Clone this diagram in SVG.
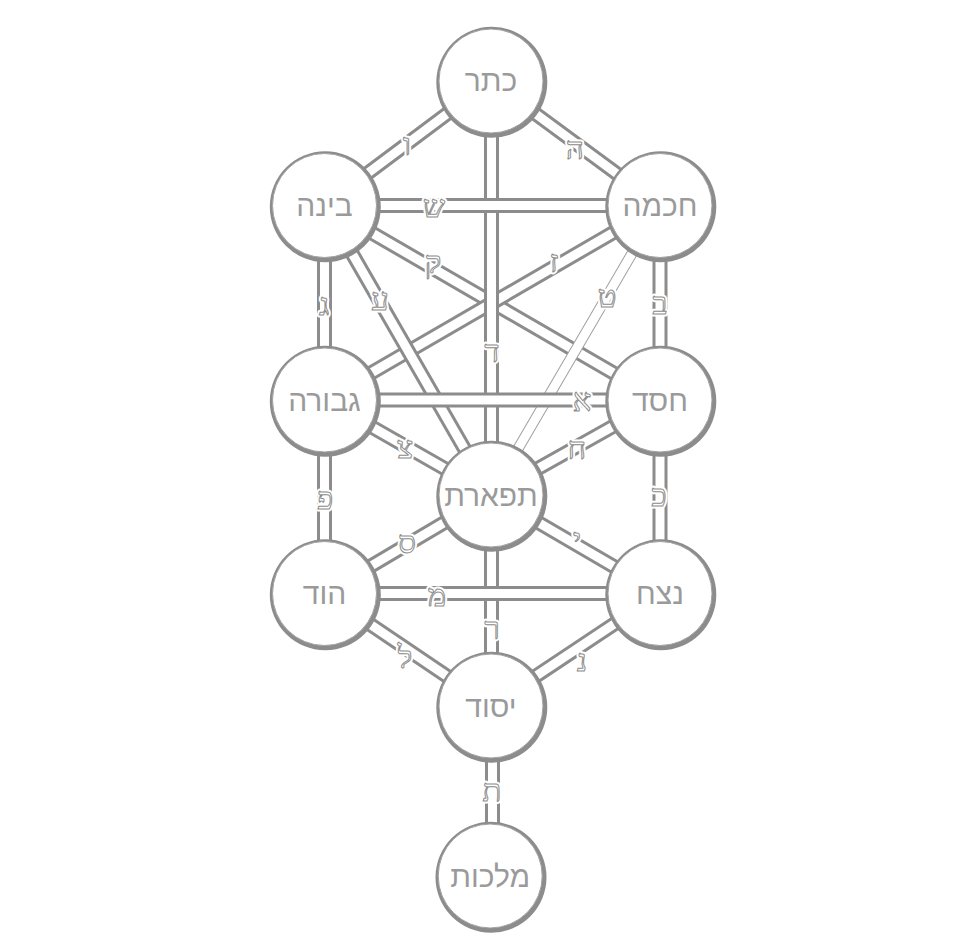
<svg xmlns="http://www.w3.org/2000/svg" width="977" height="951" viewBox="0 0 977 951">
<style>
.b{stroke:#8c8c8c;stroke-width:15;stroke-linecap:butt}
.w{stroke:#ffffff;stroke-width:9;stroke-linecap:butt}
.bt{stroke:#a0a0a0;stroke-width:11}
.wt{stroke:#ffffff;stroke-width:9}
.rim{fill:#8c8c8c}
.face{fill:#ffffff;stroke:#a0a0a0;stroke-width:1}
.lbl{font-family:"Liberation Sans","DejaVu Sans",sans-serif;font-size:30px;text-anchor:middle;fill:#9a9a9a}
.halo{font-family:"Liberation Serif","DejaVu Serif",serif;font-size:31px;text-anchor:middle;fill:#ffffff;stroke:#ffffff;stroke-width:5;stroke-linejoin:round}
.lt{font-family:"Liberation Serif","DejaVu Serif",serif;font-size:31px;text-anchor:middle;fill:#ffffff;stroke:#8c8c8c;stroke-width:1}
</style>
<rect width="977" height="951" fill="#ffffff"/>
<g id="connectors">
  <g id="p-keter-binah"><line class="b" x1="491" y1="81" x2="324.5" y2="205.5"/><line class="w" x1="491" y1="81" x2="324.5" y2="205.5"/></g>
  <g id="p-keter-chokmah"><line class="b" x1="491" y1="81" x2="660" y2="205.5"/><line class="w" x1="491" y1="81" x2="660" y2="205.5"/></g>
  <g id="p-binah-chesed"><line class="b" x1="324.5" y1="205.5" x2="660" y2="400"/><line class="w" x1="324.5" y1="205.5" x2="660" y2="400"/></g>
  <g id="p-chokmah-geburah"><line class="b" x1="660" y1="205.5" x2="324.5" y2="400"/><line class="w" x1="660" y1="205.5" x2="324.5" y2="400"/></g>
  <g id="p-binah-tiferet"><line class="b" x1="324.5" y1="205.5" x2="491" y2="495"/><line class="w" x1="324.5" y1="205.5" x2="491" y2="495"/></g>
  <g id="p-chokmah-tiferet"><line class="bt" x1="660" y1="205.5" x2="491" y2="495"/><line class="wt" x1="660" y1="205.5" x2="491" y2="495"/></g>
  <g id="p-geburah-tiferet"><line class="b" x1="324.5" y1="400" x2="491" y2="495"/><line class="w" x1="324.5" y1="400" x2="491" y2="495"/></g>
  <g id="p-chesed-tiferet"><line class="b" x1="660" y1="400" x2="491" y2="495"/><line class="w" x1="660" y1="400" x2="491" y2="495"/></g>
  <g id="p-tiferet-hod"><line class="b" x1="491" y1="495" x2="324.5" y2="593.5"/><line class="w" x1="491" y1="495" x2="324.5" y2="593.5"/></g>
  <g id="p-tiferet-netzach"><line class="b" x1="491" y1="495" x2="660" y2="593.5"/><line class="w" x1="491" y1="495" x2="660" y2="593.5"/></g>
  <g id="p-hod-yesod"><line class="b" x1="324.5" y1="593.5" x2="491" y2="706"/><line class="w" x1="324.5" y1="593.5" x2="491" y2="706"/></g>
  <g id="p-netzach-yesod"><line class="b" x1="660" y1="593.5" x2="491" y2="706"/><line class="w" x1="660" y1="593.5" x2="491" y2="706"/></g>
  <g id="p-keter-tiferet"><line class="b" x1="491.5" y1="81" x2="491.5" y2="495"/><line class="w" x1="491.5" y1="81" x2="491.5" y2="495"/></g>
  <g id="p-binah-geburah"><line class="b" x1="324.5" y1="205.5" x2="324.5" y2="400"/><line class="w" x1="324.5" y1="205.5" x2="324.5" y2="400"/></g>
  <g id="p-chokmah-chesed"><line class="b" x1="660" y1="205.5" x2="660" y2="400"/><line class="w" x1="660" y1="205.5" x2="660" y2="400"/></g>
  <g id="p-geburah-hod"><line class="b" x1="324.5" y1="400" x2="324.5" y2="593.5"/><line class="w" x1="324.5" y1="400" x2="324.5" y2="593.5"/></g>
  <g id="p-chesed-netzach"><line class="b" x1="660" y1="400" x2="660" y2="593.5"/><line class="w" x1="660" y1="400" x2="660" y2="593.5"/></g>
  <g id="p-tiferet-yesod"><line class="b" x1="491.5" y1="495" x2="491.5" y2="706"/><line class="w" x1="491.5" y1="495" x2="491.5" y2="706"/></g>
  <g id="p-yesod-malkuth"><line class="b" x1="492.5" y1="706" x2="492.5" y2="876"/><line class="w" x1="492.5" y1="706" x2="492.5" y2="876"/></g>
  <g id="p-binah-chokmah"><line class="b" x1="324.5" y1="205.5" x2="660" y2="205.5"/><line class="w" x1="324.5" y1="205.5" x2="660" y2="205.5"/></g>
  <g id="p-geburah-chesed"><line class="b" x1="324.5" y1="400" x2="660" y2="400"/><line class="w" x1="324.5" y1="400" x2="660" y2="400"/></g>
  <g id="p-hod-netzach"><line class="b" x1="324.5" y1="593.5" x2="660" y2="593.5"/><line class="w" x1="324.5" y1="593.5" x2="660" y2="593.5"/></g>
  <g id="letters">
    <text class="halo" x="407" y="155">ו</text><text class="lt" x="407" y="155">ו</text>
    <text class="halo" x="575" y="159">ה</text><text class="lt" x="575" y="159">ה</text>
    <text class="halo" x="434" y="217">ש</text><text class="lt" x="434" y="217">ש</text>
    <text class="halo" x="433" y="273">ק</text><text class="lt" x="433" y="273">ק</text>
    <text class="halo" x="554" y="272">ז</text><text class="lt" x="554" y="272">ז</text>
    <text class="halo" x="380" y="310">ע</text><text class="lt" x="380" y="310">ע</text>
    <text class="halo" x="324" y="315">ג</text><text class="lt" x="324" y="315">ג</text>
    <text class="halo" x="607" y="307">ט</text><text class="lt" x="607" y="307">ט</text>
    <text class="halo" x="660" y="314">ב</text><text class="lt" x="660" y="314">ב</text>
    <text class="halo" x="492" y="362">ד</text><text class="lt" x="492" y="362">ד</text>
    <text class="halo" x="582" y="411">א</text><text class="lt" x="582" y="411">א</text>
    <text class="halo" x="577" y="459">ח</text><text class="lt" x="577" y="459">ח</text>
    <text class="halo" x="405" y="458">צ</text><text class="lt" x="405" y="458">צ</text>
    <text class="halo" x="325" y="509">פ</text><text class="lt" x="325" y="509">פ</text>
    <text class="halo" x="659" y="506">כ</text><text class="lt" x="659" y="506">כ</text>
    <text class="halo" x="407" y="553">ס</text><text class="lt" x="407" y="553">ס</text>
    <text class="halo" x="577" y="550">י</text><text class="lt" x="577" y="550">י</text>
    <text class="halo" x="437" y="606">מ</text><text class="lt" x="437" y="606">מ</text>
    <text class="halo" x="492" y="639">ר</text><text class="lt" x="492" y="639">ר</text>
    <text class="halo" x="405" y="668">ל</text><text class="lt" x="405" y="668">ל</text>
    <text class="halo" x="582" y="671">נ</text><text class="lt" x="582" y="671">נ</text>
    <text class="halo" x="492" y="801">ת</text><text class="lt" x="492" y="801">ת</text>
  </g>
</g>
<g id="nodes">
  <g id="keter"><circle class="rim" cx="491.8" cy="82.3" r="55.5"/><circle class="face" cx="491" cy="81" r="52"/><text class="lbl" x="491" y="91">כתר</text></g>
  <g id="binah"><circle class="rim" cx="325.3" cy="206.8" r="55.5"/><circle class="face" cx="324.5" cy="205.5" r="52"/><text class="lbl" x="324.5" y="216">בינה</text></g>
  <g id="chokmah"><circle class="rim" cx="660.8" cy="206.8" r="55.5"/><circle class="face" cx="660" cy="205.5" r="52"/><text class="lbl" x="660" y="216">חכמה</text></g>
  <g id="geburah"><circle class="rim" cx="325.3" cy="401.3" r="55.5"/><circle class="face" cx="324.5" cy="400" r="52"/><text class="lbl" x="324.5" y="410.5">גבורה</text></g>
  <g id="chesed"><circle class="rim" cx="660.8" cy="401.3" r="55.5"/><circle class="face" cx="660" cy="400" r="52"/><text class="lbl" x="660" y="410.5">חסד</text></g>
  <g id="tiferet"><circle class="rim" cx="491.8" cy="496.3" r="55.5"/><circle class="face" cx="491" cy="495" r="52"/><text class="lbl" x="491" y="505.5">תפארת</text></g>
  <g id="hod"><circle class="rim" cx="325.3" cy="594.8" r="55.5"/><circle class="face" cx="324.5" cy="593.5" r="52"/><text class="lbl" x="324.5" y="604">הוד</text></g>
  <g id="netzach"><circle class="rim" cx="660.8" cy="594.8" r="55.5"/><circle class="face" cx="660" cy="593.5" r="52"/><text class="lbl" x="660" y="604">נצח</text></g>
  <g id="yesod"><circle class="rim" cx="491.8" cy="707.3" r="55.5"/><circle class="face" cx="491" cy="706" r="52"/><text class="lbl" x="491" y="716.5">יסוד</text></g>
  <g id="malkuth"><circle class="rim" cx="491" cy="877.3" r="55.5"/><circle class="face" cx="490.2" cy="876" r="52"/><text class="lbl" x="490.2" y="886.5">מלכות</text></g>
</g>
</svg>
